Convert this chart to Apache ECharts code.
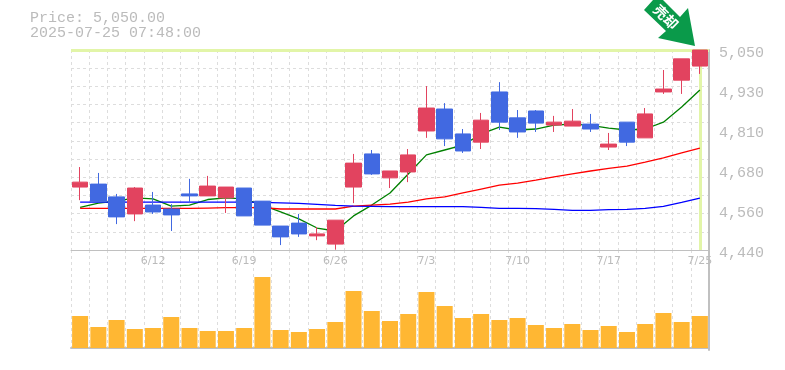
<!DOCTYPE html>
<html>
<head>
<meta charset="utf-8">
<style>
  html, body { margin: 0; padding: 0; background: #fff; }
  #chart { width: 785px; height: 370px; }
</style>
<script src="https://cdn.jsdelivr.net/npm/echarts@6/dist/echarts.min.js"></script>
</head>
<body>
<div id="chart"></div>
<script>
const dates = [
  '6/6', '6/9', '6/10', '6/11', '6/12', '6/13', '6/16', '6/17', '6/18', '6/19',
  '6/20', '6/23', '6/24', '6/25', '6/26', '6/27', '6/30', '7/1', '7/2', '7/3',
  '7/4', '7/7', '7/8', '7/9', '7/10', '7/11', '7/14', '7/15', '7/16', '7/17',
  '7/18', '7/22', '7/23', '7/24', '7/25',
];
// open, close, low, high
const candles = [
  [4632, 4647, 4592, 4693], [4641, 4587, 4586, 4675], [4602, 4541, 4519, 4611], [4550, 4629, 4528, 4632],
  [4577, 4556, 4550, 4617], [4565, 4547, 4498, 4580], [4611, 4605, 4583, 4657], [4605, 4635, 4605, 4666],
  [4599, 4632, 4553, 4632], [4629, 4544, 4544, 4629], [4589, 4516, 4516, 4589], [4513, 4480, 4455, 4513],
  [4522, 4489, 4480, 4550], [4483, 4489, 4470, 4510], [4458, 4531, 4441, 4531], [4632, 4705, 4583, 4733],
  [4733, 4672, 4669, 4745], [4660, 4681, 4629, 4681], [4678, 4730, 4647, 4748], [4803, 4873, 4782, 4940],
  [4870, 4779, 4757, 4888], [4794, 4742, 4736, 4809], [4769, 4836, 4748, 4858], [4922, 4830, 4806, 4952],
  [4843, 4800, 4782, 4867], [4864, 4827, 4800, 4867], [4821, 4830, 4800, 4849], [4818, 4833, 4818, 4870],
  [4824, 4809, 4800, 4855], [4754, 4763, 4745, 4797], [4830, 4769, 4757, 4830], [4782, 4855, 4782, 4873],
  [4922, 4931, 4916, 4989], [4958, 5023, 4916, 5023], [5001, 5050, 4977, 5050],
];
const maShort = [
  4570, 4583, 4589, 4599, 4596, 4574, 4577, 4594, 4599, 4596,
  4577, 4556, 4535, 4507, 4498, 4544, 4577, 4614, 4672, 4730,
  4745, 4760, 4794, 4815, 4806, 4809, 4821, 4824, 4820, 4812,
  4806, 4809, 4830, 4876, 4928,
];
const maMiddle = [
  4567, 4567, 4567, 4567, 4567, 4567, 4567, 4568, 4569, 4569,
  4569, 4565, 4565, 4565, 4565, 4574, 4577, 4580, 4586, 4596,
  4602, 4614, 4626, 4638, 4644, 4653, 4663, 4672, 4681, 4689,
  4696, 4708, 4721, 4736, 4751,
];
const maLong = [
  4586, 4586, 4586, 4586, 4586, 4586, 4586, 4586, 4586, 4586,
  4585, 4584, 4582, 4579, 4576, 4574, 4573, 4572, 4572, 4572,
  4572, 4572, 4570, 4567, 4567, 4566, 4564, 4561, 4561, 4563,
  4564, 4567, 4573, 4585, 4598,
];
const volumes = [
  32, 21, 28, 19, 20, 31, 20, 17, 17, 20,
  71, 18, 16, 19, 26, 57, 37, 27, 34, 56,
  42, 30, 34, 28, 30, 23, 20, 24, 18, 22,
  16, 24, 35, 26, 32,
];
const priceTicks = [4440, 4562, 4684, 4806, 4928, 5050];
const lastPrice = 5050;
const lastDate = '7/25';
const priceText = 'Price: 5,050.00';
const timeText = '2025-07-25 07:48:00';
const signalText = '売却';

const GRID_COLOR = '#dddddd';
const LABEL_COLOR = '#bbbbbb';
const BORDER_COLOR = '#c0c0c0';
const HIGHLIGHT = '#e2f5a8';
const dashed = { color: GRID_COLOR, width: 1, type: [3, 3] };

const lineSeries = (name, data, color) => ({
  name,
  type: 'line',
  data,
  z: 2,
  symbol: 'none',
  silent: true,
  lineStyle: { color, width: 1.3 },
});

const chart = echarts.init(document.getElementById('chart'), null, { renderer: 'canvas' });

chart.setOption({
  animation: false,
  backgroundColor: '#fff',
  grid: [
    { left: 71, top: 50, width: 638, height: 200 },
    { left: 71, top: 250, width: 638, height: 100 },
  ],
  xAxis: [
    {
      type: 'category',
      gridIndex: 0,
      data: dates,
      axisLine: { lineStyle: { color: BORDER_COLOR, width: 1 } },
      axisTick: { show: false },
      axisLabel: {
        interval: (index) => index % 5 === 4,
        color: LABEL_COLOR,
        fontFamily: 'DejaVu Sans',
        fontSize: 11,
        margin: 6,
      },
      splitLine: { show: true, interval: 0, lineStyle: dashed },
    },
    {
      type: 'category',
      gridIndex: 1,
      data: dates,
      axisLine: { lineStyle: { color: BORDER_COLOR, width: 2 } },
      axisTick: { show: false },
      axisLabel: { show: false },
      splitLine: { show: true, interval: 0, lineStyle: dashed },
    },
  ],
  yAxis: [
    {
      type: 'value',
      gridIndex: 0,
      position: 'right',
      min: 4440,
      max: 5050,
      interval: 610 / 11,
      axisLine: { show: true, lineStyle: { color: BORDER_COLOR, width: 2 } },
      axisTick: { show: false },
      axisLabel: {
        customValues: priceTicks,
        formatter: (value) => (Math.round(value / 10) * 10).toLocaleString('en-US'),
        color: LABEL_COLOR,
        fontFamily: 'Liberation Mono',
        fontSize: 15,
        margin: 10,
        verticalAlign: 'top',
        lineHeight: 7,
      },
      splitLine: { show: true, lineStyle: dashed },
    },
    {
      type: 'value',
      gridIndex: 1,
      position: 'right',
      min: -2,
      max: 98,
      axisLine: { show: true, lineStyle: { color: BORDER_COLOR, width: 2 } },
      axisTick: { show: false },
      axisLabel: { show: false },
      splitLine: { show: false },
    },
  ],
  series: [
    {
      // current price crosshair, sits under everything else
      name: 'Current',
      type: 'line',
      data: [],
      z: 1,
      markLine: {
        z: 1,
        silent: true,
        symbol: 'none',
        label: { show: false },
        lineStyle: { color: HIGHLIGHT, width: 3, type: 'solid' },
        data: [{ yAxis: lastPrice }, { xAxis: lastDate }],
      },
    },
    lineSeries('MA short', maShort, '#008000'),
    lineSeries('MA middle', maMiddle, '#ff0000'),
    lineSeries('MA long', maLong, '#0000ff'),
    {
      name: 'Price',
      type: 'candlestick',
      data: candles,
      z: 3,
      barWidth: 16,
      silent: true,
      itemStyle: {
        color: '#e2435f',
        color0: '#4169e1',
        borderColor: '#e2435f',
        borderColor0: '#4169e1',
        borderWidth: 1,
      },
    },
    {
      name: 'Volume',
      type: 'bar',
      xAxisIndex: 1,
      yAxisIndex: 1,
      data: volumes,
      barWidth: 16,
      silent: true,
      itemStyle: { color: '#ffb733' },
    },
  ],
  graphic: [
    {
      type: 'text',
      left: 30,
      top: 11,
      style: { text: priceText, fill: LABEL_COLOR, font: '15px "Liberation Mono"' },
    },
    {
      type: 'text',
      left: 30,
      top: 26,
      style: { text: timeText, fill: LABEL_COLOR, font: '15px "Liberation Mono"' },
    },
    {
      type: 'polygon',
      shape: {
        points: [[644, 10], [653, 0], [663, 0], [680, 17], [688, 8], [695, 46], [658, 38], [666, 31]],
      },
      style: { fill: '#0a9a4a' },
    },
    {
      type: 'text',
      x: 666,
      y: 17,
      rotation: -Math.PI / 4,
      style: {
        text: signalText,
        fill: '#ffffff',
        font: 'bold 14px "Noto Sans CJK JP"',
        align: 'center',
        verticalAlign: 'middle',
      },
    },
  ],
});
</script>
</body>
</html>
